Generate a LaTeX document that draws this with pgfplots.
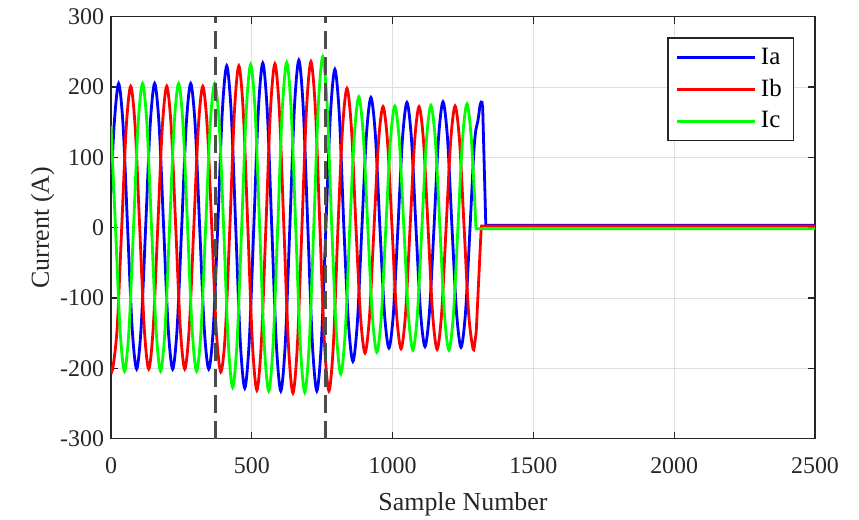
\documentclass[border=0pt]{standalone}
\usepackage{fontspec}
\setmainfont{Liberation Serif}
\usepackage{pgfplots}
\pgfplotsset{compat=1.18}
\definecolor{axcol}{RGB}{38,38,38}
\definecolor{gridcol}{RGB}{223,223,223}
\begin{document}
\begin{tikzpicture}
\begin{axis}[
 scale only axis, width=352bp, height=211bp,
 xmin=0, xmax=2500, ymin=-300, ymax=300,
 xtick={0,500,1000,1500,2000,2500}, ytick={-300,-200,-100,0,100,200,300},
 grid=major, major grid style={gridcol, line width=0.5bp},
 axis line style={axcol, line width=0.8bp},
 tick style={axcol, line width=0.7bp},
 tick align=inside, major tick length=3.5bp,
 xlabel={Sample Number}, ylabel={Current (A)},
 xticklabel shift=6bp, xlabel shift=2.5bp, ylabel shift=-4bp,
 label style={font=\fontsize{13}{15}\selectfont, text=axcol},
 tick label style={font=\fontsize{12}{14}\selectfont, text=axcol},
 /pgf/number format/assume math mode=true,
 /pgf/number format/1000 sep={},
 scaled ticks=false,
 legend cell align=left,
 legend image code/.code={\draw[#1, line width=1.5bp] (0bp,0bp) -- (39bp,0bp);},
 legend style={at={(0.9706,0.951)}, anchor=north east, draw=axcol, line width=0.6bp,
   font=\fontsize{12.5}{14}\selectfont, inner xsep=4bp, inner ysep=3bp, row sep=2bp},
]
\addplot[blue, line width=1.4bp, smooth] coordinates {
(0,49) (11,145) (27,205) (43,145) (59,0) (75,-142) (91,-201) (107,-142) (123,0) (139,145) (155,205) (171,145) (187,0) (203,-142) (219,-201) (235,-142) (251,0) (267,145) (283,205) (299,145) (315,0) (331,-142) (347,-201) (363,-145) (379,0) (395,163) (411,230) (427,163) (443,0) (459,-161) (475,-228) (491,-161) (507,0) (523,165) (539,234) (555,165) (571,0) (587,-164) (603,-232) (619,-164) (635,0) (651,168) (667,238) (683,168) (699,0) (715,-164) (731,-232) (747,-164) (763,0) (779,159) (795,225) (811,159) (827,0) (843,-134) (859,-190) (875,-134) (891,0) (907,131) (923,185) (939,131) (955,0) (971,-121) (987,-171) (1003,-121) (1019,0) (1035,126) (1051,178) (1067,126) (1083,0) (1099,-119) (1115,-169) (1131,-119) (1147,0) (1163,127) (1179,179) (1195,127) (1211,0) (1227,-120) (1243,-170) (1259,-120) (1275,0) (1288,105) (1296,140) (1303,152) (1311,175) (1317,180)
};
\addlegendentry{Ia}
\addplot[red, line width=1.4bp, smooth] coordinates {
(0,-197) (6,-201) (22,-142) (38,0) (54,142) (70,201) (86,142) (102,0) (118,-142) (134,-201) (150,-142) (166,0) (182,142) (198,201) (214,142) (230,0) (246,-142) (262,-201) (278,-142) (294,0) (310,142) (326,201) (342,142) (358,0) (374,-147) (390,-205) (406,-150) (422,0) (438,163) (454,230) (470,163) (486,0) (502,-163) (518,-231) (534,-163) (550,0) (566,165) (582,233) (598,165) (614,0) (630,-166) (646,-235) (662,-166) (678,0) (694,167) (710,236) (726,167) (742,0) (758,-164) (774,-232) (790,-164) (806,0) (822,140) (838,198) (854,140) (870,0) (886,-126) (902,-178) (918,-126) (934,0) (950,122) (966,172) (982,122) (998,0) (1014,-122) (1030,-172) (1046,-122) (1062,0) (1078,122) (1094,172) (1110,122) (1126,0) (1142,-122) (1158,-173) (1174,-122) (1190,0) (1206,122) (1222,173) (1238,122) (1254,0) (1270,-122) (1286,-173) (1293,-160) (1297,-148)
};
\addlegendentry{Ib}
\addplot[green, line width=1.4bp, smooth] coordinates {
(0,145) (16,0) (32,-144) (48,-204) (64,-144) (80,0) (96,145) (112,205) (128,145) (144,0) (160,-144) (176,-204) (192,-144) (208,0) (224,145) (240,205) (256,145) (272,0) (288,-144) (304,-204) (320,-144) (336,0) (352,145) (368,205) (384,150) (400,0) (416,-160) (432,-227) (448,-160) (464,0) (480,164) (496,232) (512,164) (528,0) (544,-164) (560,-232) (576,-164) (592,0) (608,166) (624,235) (640,166) (656,0) (672,-165) (688,-234) (704,-165) (720,0) (736,172) (752,243) (768,170) (784,0) (800,-147) (816,-208) (832,-147) (848,0) (864,131) (880,186) (896,131) (912,0) (928,-125) (944,-177) (960,-125) (976,0) (992,122) (1008,173) (1024,122) (1040,0) (1056,-123) (1072,-174) (1088,-123) (1104,0) (1120,123) (1136,174) (1152,123) (1168,0) (1184,-123) (1200,-174) (1216,-123) (1232,0) (1248,124) (1264,176) (1280,124) (1296,0)
};
\addlegendentry{Ic}
\addplot[blue, line width=1.4bp, forget plot] coordinates {(1317,180) (1320,170) (1331,3.5) (2500,3.5)};
\addplot[red, line width=1.4bp, forget plot] coordinates {(1297,-148) (1314,-5) (1316,2.5) (2500,2.5)};
\addplot[green, line width=1.4bp, forget plot] coordinates {(1296,0) (1298,-1.5) (2500,-1.5)};
\addplot[black!70, line width=1.3bp, dash pattern=on 9bp off 4bp, forget plot] coordinates {(372,-300) (372,300)};
\addplot[black!70, line width=1.3bp, dash pattern=on 9bp off 4bp, forget plot] coordinates {(762,-300) (762,300)};
\end{axis}
\pgfresetboundingbox
\path[use as bounding box] ([shift={(-55.5bp,-40.35bp)}]current axis.south west) rectangle ([shift={(22bp,8.35bp)}]current axis.north east);
\end{tikzpicture}
\end{document}
